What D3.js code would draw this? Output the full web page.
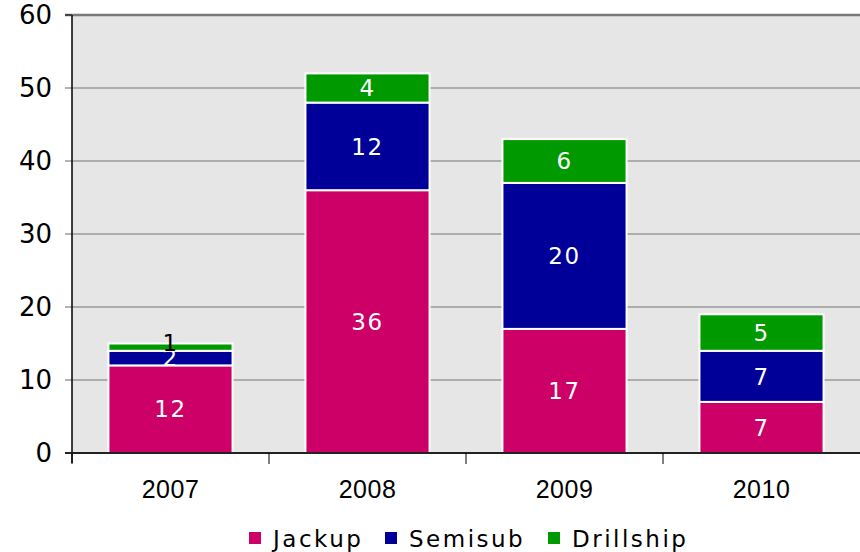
<!DOCTYPE html>
<html>
<head>
<meta charset="utf-8">
<script src="https://cdn.jsdelivr.net/npm/d3@7"></script>
<style>
  body { margin: 0; background: #fff; }
</style>
</head>
<body>
<div id="chart"></div>
<script>
// data
const years = ["2007", "2008", "2009", "2010"];
const jackup = [12, 36, 17, 7];
const semisub = [2, 12, 20, 7];
const drillship = [1, 4, 6, 5];
const seriesNames = ["Jackup", "Semisub", "Drillship"];
const yTicks = [0, 10, 20, 30, 40, 50, 60];

const width = 860, height = 552;
const margin = { top: 15, right: 0, bottom: 99, left: 72 };

const svg = d3.select("#chart").append("svg")
    .attr("width", width)
    .attr("height", height);

const x = d3.scaleBand()
    .domain(years)
    .range([margin.left, width - margin.right])
    .paddingInner(0.37)
    .paddingOuter(0.185);

const y = d3.scaleLinear()
    .domain([0, 60])
    .range([height - margin.bottom, margin.top]);

const color = d3.scaleOrdinal()
    .domain(seriesNames)
    .range(["#cc0066", "#000099", "#009900"]);

// plot background
svg.append("rect")
    .attr("x", margin.left)
    .attr("y", y(60))
    .attr("width", width - margin.left)
    .attr("height", y(0) - y(60))
    .attr("fill", "#e6e6e6");

// gridlines
svg.append("g")
    .selectAll("line")
    .data(yTicks.filter(d => d > 0))
    .enter().append("line")
    .attr("x1", margin.left - 7)
    .attr("x2", width)
    .attr("y1", d => y(d))
    .attr("y2", d => y(d))
    .attr("stroke", d => d === 60 ? "#7a7a7a" : "#9a9a9a")
    .attr("stroke-width", d => d === 60 ? 2.5 : 1.5);

// stacked bars
const table = years.map((yr, i) => ({
    year: yr, Jackup: jackup[i], Semisub: semisub[i], Drillship: drillship[i]
}));
const stacked = d3.stack().keys(seriesNames)(table);

const layer = svg.append("g")
    .selectAll("g")
    .data(stacked)
    .enter().append("g")
    .attr("fill", d => color(d.key));

layer.selectAll("rect")
    .data(d => d)
    .enter().append("rect")
    .attr("x", d => x(d.data.year))
    .attr("y", d => y(d[1]))
    .attr("width", x.bandwidth())
    .attr("height", d => y(d[0]) - y(d[1]))
    .attr("stroke", "#fff")
    .attr("stroke-width", 2);

// value labels (the thin 1-unit slice gets a black label sitting on its top)
layer.selectAll("text")
    .data(d => d.map(v => ({ v, key: d.key })))
    .enter().append("text")
    .attr("x", d => x(d.v.data.year) + x.bandwidth() / 2)
    .attr("y", d => {
        const h = d.v[1] - d.v[0];
        return h <= 1 ? y(d.v[1]) - 1 : (y(d.v[0]) + y(d.v[1])) / 2;
    })
    .attr("dy", "0.36em")
    .attr("text-anchor", "middle")
    .attr("font-family", "'DejaVu Sans', Verdana, sans-serif")
    .attr("font-size", 23)
    .attr("letter-spacing", 1.5)
    .attr("fill", d => (d.v[1] - d.v[0]) <= 1 ? "#000" : "#fff")
    .text(d => d.v[1] - d.v[0]);

// y axis
svg.append("line")
    .attr("x1", margin.left).attr("x2", margin.left)
    .attr("y1", y(60)).attr("y2", y(0) + 10)
    .attr("stroke", "#000").attr("stroke-width", 1.5);

svg.append("g")
    .selectAll("text")
    .data(yTicks)
    .enter().append("text")
    .attr("x", 52)
    .attr("y", d => y(d))
    .attr("dy", "0.36em")
    .attr("text-anchor", "end")
    .attr("font-family", "'DejaVu Sans', Verdana, sans-serif")
    .attr("font-size", 26)
    .attr("fill", "#000")
    .text(d => d);

svg.append("g")
    .selectAll("line")
    .data([0, 60])
    .enter().append("line")
    .attr("x1", margin.left - 7).attr("x2", margin.left)
    .attr("y1", d => y(d)).attr("y2", d => y(d))
    .attr("stroke", "#333").attr("stroke-width", 1.5);

// x axis
svg.append("line")
    .attr("x1", margin.left - 7).attr("x2", width)
    .attr("y1", y(0)).attr("y2", y(0))
    .attr("stroke", "#222").attr("stroke-width", 2);

const step = x.step();
svg.append("g")
    .selectAll("line")
    .data(years)
    .enter().append("line")
    .attr("x1", d => x(d) - step * x.paddingInner() / 2)
    .attr("x2", d => x(d) - step * x.paddingInner() / 2)
    .attr("y1", y(0)).attr("y2", y(0) + 11)
    .attr("stroke", "#000").attr("stroke-width", 1);

svg.append("g")
    .selectAll("text")
    .data(years)
    .enter().append("text")
    .attr("x", d => x(d) + x.bandwidth() / 2)
    .attr("y", 498)
    .attr("text-anchor", "middle")
    .attr("font-family", "'Liberation Sans', Arial, sans-serif")
    .attr("font-size", 25)
    .attr("letter-spacing", 0.5)
    .attr("fill", "#000")
    .text(d => d);

// legend
const legendX = [249, 385, 548];
const legend = svg.append("g")
    .selectAll("g")
    .data(seriesNames)
    .enter().append("g")
    .attr("transform", (d, i) => `translate(${legendX[i]},538)`);

legend.append("rect")
    .attr("x", 0).attr("y", -6)
    .attr("width", 12).attr("height", 12)
    .attr("fill", d => color(d));

legend.append("text")
    .attr("x", 24)
    .attr("y", 9)
    .attr("font-family", "'DejaVu Sans', Verdana, sans-serif")
    .attr("font-size", 23)
    .attr("letter-spacing", 2.5)
    .attr("fill", "#000")
    .text(d => d);
</script>
</body>
</html>
